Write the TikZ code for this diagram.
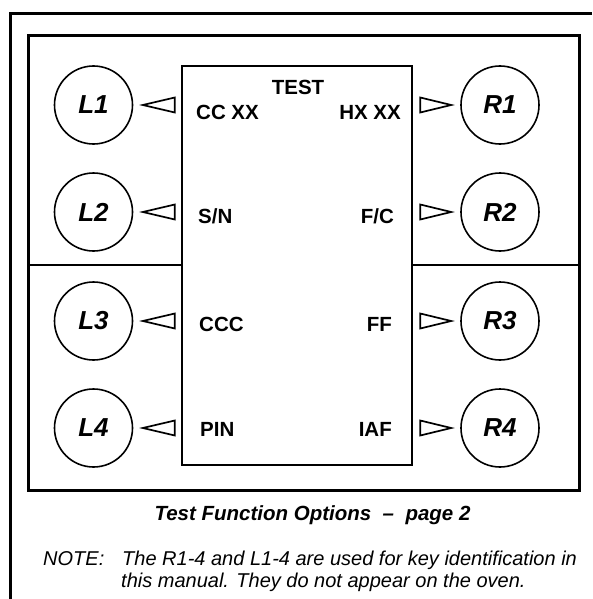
\documentclass[tikz,border=0pt]{standalone}
\usepackage{fontspec}
\setmainfont{Liberation Sans}

\begin{document}
\begin{tikzpicture}[x=1pt, y=-1pt,
    keycirc/.style={draw, circle, line width=1.6pt, minimum size=78pt, inner sep=0pt,
      font=\fontsize{26}{26}\selectfont\bfseries\itshape},
    pointer/.style={line width=1.7pt, line join=miter},
    menutext/.style={inner sep=0pt, font=\fontsize{20.5}{20.5}\selectfont\bfseries},
    frame/.style={line width=3pt}]
    \useasboundingbox (0,0) rectangle (592,599);

    % Outer frame (top and left only)
    \draw[frame] (592,14) -- (10,14) -- (10,599);

    % Panel
    \draw[frame] (28,36) rectangle (579,490);
    \draw[line width=2pt] (28,265) -- (182,265);
    \draw[line width=2pt] (412,265) -- (579,265);

    % Display
    \draw[line width=2pt, fill=white] (182,66) rectangle (412,465);
    \node[menutext, anchor=base] (test) at (298,95) {TEST};

    % Left keys
    \node[keycirc] (L1) at (93.5,105) {L1};
    \node[keycirc] (L2) at (93.5,212) {L2};
    \node[keycirc] (L3) at (93.5,321) {L3};
    \node[keycirc] (L4) at (93.5,428) {L4};

    % Right keys
    \node[keycirc] (R1) at (500,105) {R1};
    \node[keycirc] (R2) at (500,212) {R2};
    \node[keycirc] (R3) at (500,321) {R3};
    \node[keycirc] (R4) at (500,428) {R4};

    % Pointers to left keys
    \draw[pointer] (L1.east) ++(9.5,0) -- ++(32,-7.5) -- ++(0,15) -- cycle;
    \draw[pointer] (L2.east) ++(9.5,0) -- ++(32,-7.5) -- ++(0,15) -- cycle;
    \draw[pointer] (L3.east) ++(9.5,0) -- ++(32,-7.5) -- ++(0,15) -- cycle;
    \draw[pointer] (L4.east) ++(9.5,0) -- ++(32,-7.5) -- ++(0,15) -- cycle;

    % Pointers to right keys
    \draw[pointer] (R1.west) ++(-9,0) -- ++(-31,-7.5) -- ++(0,15) -- cycle;
    \draw[pointer] (R2.west) ++(-9,0) -- ++(-31,-7.5) -- ++(0,15) -- cycle;
    \draw[pointer] (R3.west) ++(-9,0) -- ++(-31,-7.5) -- ++(0,15) -- cycle;
    \draw[pointer] (R4.west) ++(-9,0) -- ++(-31,-7.5) -- ++(0,15) -- cycle;

    % Menu entries
    \node[menutext, anchor=base west] (ccxx) at (196,119) {CC XX};
    \node[menutext, anchor=base west] (sn) at (198,223) {S/N};
    \node[menutext, anchor=base west] (ccc) at (199,331) {CCC};
    \node[menutext, anchor=base west] (pin) at (200,436) {PIN};
    \node[menutext, anchor=base east] (hxxx) at (401,119) {HX XX};
    \node[menutext, anchor=base east] (fc) at (394,223) {F/C};
    \node[menutext, anchor=base east] (ff) at (392,331) {FF};
    \node[menutext, anchor=base east] (iaf) at (392,436) {IAF};

    % Caption and note
    \node[inner sep=0pt, anchor=base, font=\fontsize{20.5}{20.5}\selectfont\bfseries\itshape]
        (caption) at (312.5,520) {Test Function Options~~--~~page 2};
    \node[inner sep=0pt, anchor=base west, font=\fontsize{20}{20}\selectfont\itshape]
        (note) at (43,565) {NOTE:};
    \node[inner sep=0pt, anchor=base west, font=\fontsize{20}{20}\selectfont\itshape]
        (note1) at (122,565) {The R1-4 and L1-4 are used for key identification in};
    \node[inner sep=0pt, anchor=base west, font=\fontsize{20}{20}\selectfont\itshape]
        (note2) at (121,587) {this manual. They do not appear on the oven.};
\end{tikzpicture}
\end{document}
